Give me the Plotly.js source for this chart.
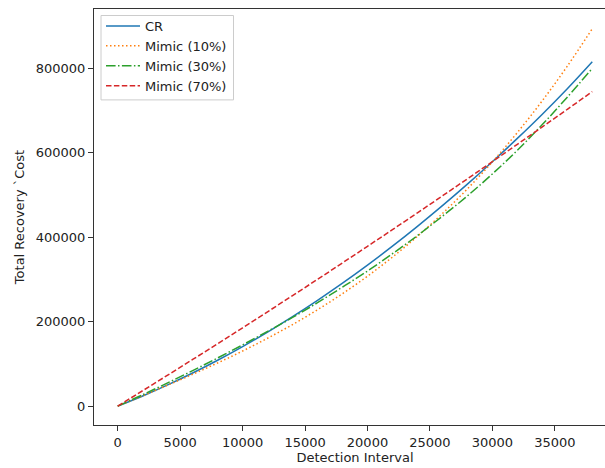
<!DOCTYPE html>
<html>
<head>
<meta charset="utf-8">
<script src="https://cdn.plot.ly/plotly-3.0.1.min.js"></script>
<style>
html, body { margin: 0; padding: 0; overflow: hidden; background: #fff; }
#chart { width: 620px; height: 468px; }
</style>
</head>
<body>
<div id="chart"></div>
<script>
// Detection interval samples
const detectionInterval = [0, 2000, 4000, 6000, 8000, 10000, 12000, 14000, 16000, 18000,
  20000, 22000, 24000, 26000, 28000, 30000, 32000, 34000, 36000, 38000];

// Series values (Total Recovery Cost)
const costCR = [0, 24000, 50200, 78400, 108600, 141000, 175400, 212000, 250600, 291200,
  334000, 378800, 425800, 474800, 525800, 579000, 634200, 691600, 752000, 816000];
const costMimic10 = [0, 24600, 49600, 75300, 102200, 130500, 160800, 193200, 228300, 266400,
  307800, 353000, 402300, 456100, 514700, 578600, 648100, 723500, 805400, 894000];
const costMimic30 = [0, 27000, 55000, 84000, 114000, 145000, 177000, 210000, 245000, 282000,
  320000, 361000, 404000, 450000, 498000, 550000, 606000, 667000, 732000, 800000];
const costMimic70 = [0, 36500, 73300, 110400, 147800, 185500, 223500, 261800, 300400, 339300,
  378500, 418000, 457900, 498000, 538400, 579100, 620200, 661500, 703100, 745000];

const seriesNames = ["CR", "Mimic (10%)", "Mimic (30%)", "Mimic (70%)"];

// Tick labels
const xTicks = [0, 5000, 10000, 15000, 20000, 25000, 30000, 35000];
const xTickText = ["0", "5000", "10000", "15000", "20000", "25000", "30000", "35000"];
const yTicks = [0, 200000, 400000, 600000, 800000];
const yTickText = ["0", "200000", "400000", "600000", "800000"];

const FONT = "DejaVu Sans, sans-serif";

// plot-area geometry (pixels) used to place the legend frame
const W = 620, H = 468, ML = 94, MR = 4, MT = 8.5, MB = 43;
const PW = W - ML - MR, PH = H - MT - MB;
const px2x = p => (p - ML) / PW;
const py2y = p => 1 - (p - MT) / PH;

const traces = [
  { x: detectionInterval, y: costCR, name: seriesNames[0], mode: "lines",
    line: { color: "#1f77b4", width: 1.5, shape: "spline" } },
  { x: detectionInterval, y: costMimic10, name: seriesNames[1], mode: "lines",
    line: { color: "#ff7f0e", width: 1.5, dash: "1.5px,2.5px", shape: "spline" } },
  { x: detectionInterval, y: costMimic30, name: seriesNames[2], mode: "lines",
    line: { color: "#2ca02c", width: 1.5, dash: "9.6px,2.4px,1.5px,2.4px", shape: "spline" } },
  { x: detectionInterval, y: costMimic70, name: seriesNames[3], mode: "lines",
    line: { color: "#d62728", width: 1.5, dash: "5.5px,2.4px", shape: "spline" } }
];

const axisCommon = {
  showgrid: false, zeroline: false, showline: true, mirror: true,
  linecolor: "#333", linewidth: 1,
  ticks: "outside", ticklen: 5, tickwidth: 1, tickcolor: "#333",
  tickmode: "array",
  tickfont: { family: FONT, size: 13, color: "#222" }
};

const layout = {
  width: W, height: H,
  margin: { l: ML, r: MR, t: MT, b: MB },
  paper_bgcolor: "#fff", plot_bgcolor: "#fff",
  font: { family: FONT, size: 13, color: "#222" },
  xaxis: Object.assign({}, axisCommon, {
    range: [-1900, 39900], tickvals: xTicks, ticktext: xTickText,
    title: { text: "Detection Interval", font: { family: FONT, size: 13, color: "#222" }, standoff: 4 }
  }),
  yaxis: Object.assign({}, axisCommon, {
    range: [-44800, 940800], tickvals: yTicks, ticktext: yTickText,
    title: { text: "Total Recovery `Cost", font: { family: FONT, size: 13, color: "#222" }, standoff: 8 }
  }),
  shapes: [{
    type: "rect", xref: "paper", yref: "paper", layer: "above",
    x0: px2x(101), x1: px2x(233.5), y0: py2y(99.5), y1: py2y(15),
    line: { color: "#cccccc", width: 1 }, fillcolor: "rgba(255,255,255,0.8)"
  }],
  showlegend: true,
  legend: {
    x: px2x(101), y: py2y(10.5), xanchor: "left", yanchor: "top",
    bgcolor: "rgba(0,0,0,0)", borderwidth: 0, itemwidth: 34,
    font: { family: FONT, size: 13, color: "#222" }
  }
};

Plotly.newPlot("chart", traces, layout, { displayModeBar: false, staticPlot: true });
</script>
</body>
</html>
